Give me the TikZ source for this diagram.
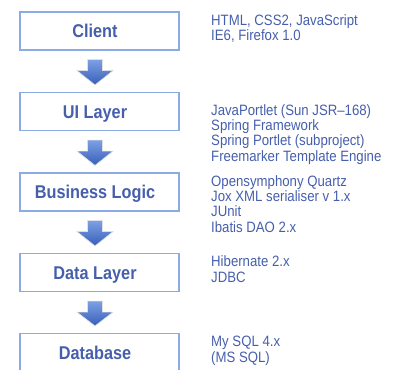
\documentclass[tikz,border=0pt]{standalone}
\usepackage{fontspec}
\setmainfont[FakeStretch=0.88]{Liberation Sans}
\usepackage{tikz}
\usetikzlibrary{calc}
\definecolor{textblue}{RGB}{70,95,172}
\definecolor{lineblue}{RGB}{140,170,228}
\definecolor{arrowtop}{RGB}{125,160,228}
\definecolor{arrowbot}{RGB}{55,95,185}

\begin{document}
\begin{tikzpicture}[x=1pt, y=-1pt,
  layerbox/.style={draw=lineblue, line width=1.2pt, minimum width=159pt, minimum height=38pt, inner sep=0},
  layertext/.style={text=textblue, font=\fontsize{18.5}{20}\selectfont\bfseries, anchor=base, inner sep=0},
  techlist/.style={text=textblue, font=\fontsize{15}{15.2}\selectfont, align=left, anchor=base west, inner sep=0},
  downarrow/.style={draw=black!12, line width=0.6pt, top color=arrowtop, bottom color=arrowbot}]
\clip (0,0) rectangle (395,369);

% layers
\foreach \name/\txt/\ypos in {client/Client/31, ui/UI Layer/111.5, logic/Business Logic/192, data/Data Layer/272.5, db/Database/352.5} {
  \node[layerbox] (\name) at (99.5,\ypos) {};
  \node[layertext] (\name-label) at ($(\name.center)+(-4.5,6.5)$) {\txt};
}

% arrows between layers
\foreach \a/\b in {client/ui, ui/logic, logic/data, data/db}
  \path[downarrow] ($(\a.south)+(-12,9)$) -- ++(15,0) -- ++(0,11) -- ++(10.5,0)
    -- ($(\b.north)+(-4.5,-7)$) -- ($(\a.south)+(-22.5,20)$) -- ++(10.5,0) -- cycle;

% technologies (placed by the baseline of the last line)
\node[techlist] (clienttech) at (211,41) {HTML, CSS2, JavaScript\\IE6, Firefox 1.0};
\node[techlist] (uitech) at (211,161) {JavaPortlet (Sun JSR--168)\\Spring Framework\\Spring Portlet (subproject)\\Freemarker Template Engine};
\node[techlist] (logictech) at (211,232) {Opensymphony Quartz\\Jox XML serialiser v 1.x\\JUnit\\Ibatis DAO 2.x};
\node[techlist] (datatech) at (211,282) {Hibernate 2.x\\JDBC};
\node[techlist] (dbtech) at (211,362) {My SQL 4.x\\(MS SQL)};

\end{tikzpicture}
\end{document}
